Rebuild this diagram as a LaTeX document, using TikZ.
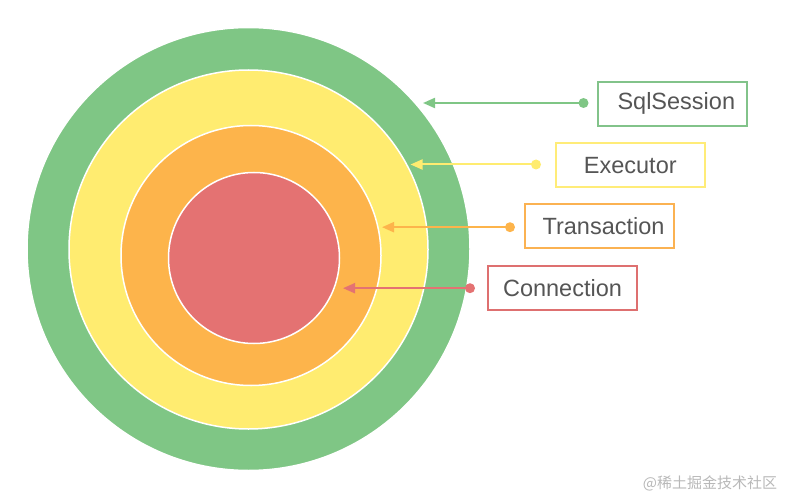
\documentclass[tikz,border=0pt]{standalone}
\usepackage{fontspec}
\setmainfont{Liberation Sans}
\newfontfamily\cjk{Noto Sans CJK SC}
\usetikzlibrary{arrows.meta}
\definecolor{cG}{RGB}{127,198,133}
\definecolor{cY}{RGB}{255,236,112}
\definecolor{cO}{RGB}{253,180,75}
\definecolor{cR}{RGB}{228,114,114}
\definecolor{bG}{RGB}{130,195,138}
\definecolor{bY}{RGB}{255,236,120}
\definecolor{bO}{RGB}{251,178,82}
\definecolor{bR}{RGB}{222,112,112}
\definecolor{txt}{RGB}{85,85,85}
\begin{document}
\begin{tikzpicture}[x=1pt,y=-1pt,
  ring/.style={circle,inner sep=0pt,draw=white,line width=1.5pt},
  lbox/.style={draw=#1,line width=1.8pt,minimum width=149pt,minimum height=44pt,inner sep=0pt,
    text=txt,font=\fontsize{23.5}{28}\selectfont},
  pin/.style={circle,fill=#1,inner sep=0pt,minimum size=10pt},
  link/.style={draw=#1,line width=2pt,-{Triangle[length=12pt,width=10pt]}}]
\useasboundingbox (0,0) rectangle (789,497);
% rings
\node[ring,fill=cG,minimum size=443pt] (green) at (248.5,249) {};
\node[ring,fill=cY,minimum size=359pt] (yellow) at (248.5,249.5) {};
\node[ring,fill=cO,minimum size=260pt] (orange) at (251,255.5) {};
\node[ring,fill=cR,minimum size=171pt] (red) at (254,258) {};
% labels
\node[lbox=bG] (lsql) at (672.3,103.8) {\hspace*{8pt}SqlSession};
\node[lbox=bY] (lexe) at (630.3,165.3) {Executor};
\node[lbox=bO] (ltra) at (599.5,226.2) {\hspace*{8pt}Transaction};
\node[lbox=bR] (lcon) at (562.5,287.9) {Connection};
% pins and tips
\coordinate (tsql) at (423,103);
\coordinate (texe) at (410.5,164.5);
\coordinate (ttra) at (382,227.2);
\coordinate (tcon) at (343,288.2);
\node[pin=cG] (psql) at (583.5,103) {};
\node[pin=cY] (pexe) at (536,164.5) {};
\node[pin=cO] (ptra) at (510,227.2) {};
\node[pin=cR] (pcon) at (470,288.2) {};
\draw[link=cG] (psql.center) -- (tsql);
\draw[link=cY] (pexe.center) -- (texe);
\draw[link=cO] (ptra.center) -- (ttra);
\draw[link=cR] (pcon.center) -- (tcon);
% watermark
\node[text=black!28,font=\cjk\fontsize{15}{18}\selectfont] (wm) at (710,483) {@稀土掘金技术社区};
\end{tikzpicture}
\end{document}
